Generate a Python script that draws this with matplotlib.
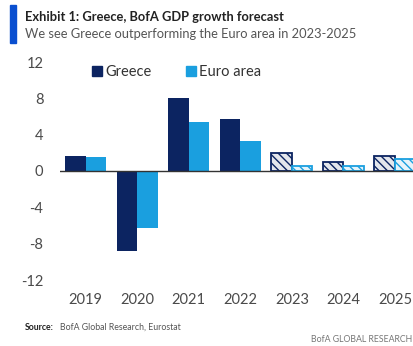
import matplotlib
matplotlib.use("Agg")
import matplotlib.pyplot as plt
from matplotlib.patches import Rectangle, Patch

plt.rcParams['font.family'] = ['Lato', 'DejaVu Sans']
plt.rcParams['hatch.linewidth'] = 1.0

years = ['2019', '2020', '2021', '2022', '2023', '2024', '2025']
greece = [1.6, -8.8, 8.0, 5.7, 2.0, 1.0, 1.6]
euro = [1.5, -6.3, 5.4, 3.3, 0.5, 0.5, 1.3]
forecast = [False, False, False, False, True, True, True]
yticks = [12, 8, 4, 0, -4, -8, -12]

navy = '#0c2461'
sky = '#1a9fdf'

fig = plt.figure(figsize=(4.14, 3.46), dpi=100)
ax = fig.add_axes([60 / 414, 1 - 280 / 346, 354 / 414, 218 / 346])

w = 0.4
for i, yr in enumerate(years):
    if forecast[i]:
        ax.bar(i - w / 2, greece[i], w, color='#e3e6ec', edgecolor=navy, hatch='\\\\\\\\', linewidth=1.3)
        ax.bar(i + w / 2, euro[i], w, color='#e6f3fa', edgecolor=sky, hatch='\\\\\\\\', linewidth=1.3)
    else:
        ax.bar(i - w / 2, greece[i], w, color=navy)
        ax.bar(i + w / 2, euro[i], w, color=sky)

ax.axhline(0, color='#333333', lw=1.0, zorder=5)
ax.set_xlim(-0.5, 6.37)
ax.set_ylim(-12, 12)
ax.set_yticks(yticks)
ax.set_yticklabels([str(t) for t in yticks])
ax.set_xticks(range(len(years)))
ax.set_xticklabels(years)
ax.tick_params(length=0, labelsize=10.5, colors='#4a4a4a')
ax.tick_params(axis='y', pad=12)
ax.tick_params(axis='x', pad=9)
for s in ax.spines.values():
    s.set_visible(False)

handles = [Patch(color=navy, label='Greece'), Patch(color=sky, label='Euro area')]
ax.legend(handles=handles, loc='center left', bbox_to_anchor=(0.09, 0.955), ncol=2,
          frameon=False, fontsize=10.5, handlelength=0.7, handleheight=0.7,
          handletextpad=0.2, columnspacing=2.4, labelcolor='#333333',
          borderaxespad=0, borderpad=0)

# header
fig.patches.append(Rectangle((10 / 414, 1 - 43 / 346), 6 / 414, 38 / 346,
                             transform=fig.transFigure, color='#0a4fd0'))
fig.text(25 / 414, 1 - 17 / 346, 'Exhibit 1: Greece, BofA GDP growth forecast',
         fontsize=9.3, fontweight='bold', color='#222222', va='center')
fig.text(25 / 414, 1 - 34 / 346, 'We see Greece outperforming the Euro area in 2023-2025',
         fontsize=9.3, color='#555555', va='center')

fig.text(25 / 414, 1 - 327 / 346, 'Source:', fontsize=6.3, fontweight='bold',
         color='#222222', va='center')
fig.text(60 / 414, 1 - 327 / 346, 'BofA Global Research, Eurostat', fontsize=6.3,
         color='#555555', va='center')
fig.text(412 / 414, 1 - 340 / 346, 'BofA GLOBAL RESEARCH', fontsize=6.3,
         color='#777777', va='center', ha='right')

fig.savefig('out.png', dpi=100)
